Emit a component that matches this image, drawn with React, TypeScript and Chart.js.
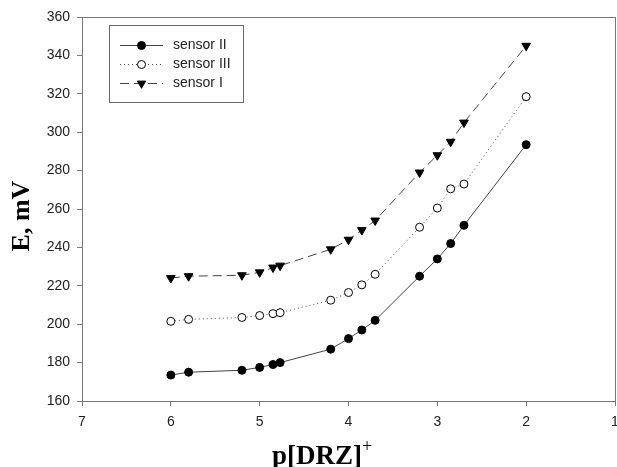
import React, { useEffect, useRef } from "react";
import { Chart, registerables } from "chart.js";

Chart.register(...registerables);

const pValues = [6.0, 5.8, 5.2, 5.0, 4.85, 4.77, 4.2, 4.0, 3.85, 3.7, 3.2, 3.0, 2.85, 2.7, 2.0];
const sensorII = [173.5, 175, 176, 177.5, 179, 180, 187, 192.5, 197, 202, 225, 234, 242, 251.5, 293.5];
const sensorIII = [201.5, 202.5, 203.5, 204.5, 205.5, 206, 212.5, 216.5, 220.5, 226, 250.5, 260.5, 270.5, 273, 318.5];
const sensorI = [224, 225, 225.5, 227, 229.5, 230.5, 239, 244, 249, 254, 279, 288, 295, 305, 345];
const seriesLabels = ["sensor II", "sensor III", "sensor I"];
const xTitle = "p[DRZ]";
const xTitleSup = "+";
const yTitle = "E, mV";

const LINE = "#444";
const AXIS = "#777";

const toPts = (ys: number[]) => pValues.map((x, i) => ({ x, y: ys[i] }));

const decorPlugin = {
  id: "decor",
  afterDraw(chart: any) {
    const { ctx, chartArea } = chart;
    const { left, right, top, bottom } = chartArea;
    ctx.save();
    // frame
    ctx.strokeStyle = AXIS;
    ctx.lineWidth = 1;
    ctx.setLineDash([]);
    ctx.strokeRect(Math.round(left) + 0.5, Math.round(top) + 0.5, Math.round(right - left), Math.round(bottom - top));

    // legend
    const bx = 109.5, by = 25.5, bw = 134, bh = 77;
    ctx.fillStyle = "#fff";
    ctx.fillRect(bx, by, bw, bh);
    ctx.strokeStyle = "#666";
    ctx.strokeRect(bx, by, bw, bh);
    const rows = [45, 64, 83];
    chart.data.datasets.forEach((ds: any, i: number) => {
      const y = rows[i] + 0.5;
      ctx.strokeStyle = LINE;
      ctx.lineWidth = 1;
      ctx.setLineDash(ds.borderDash || []);
      ctx.beginPath();
      ctx.moveTo(120, y);
      ctx.lineTo(163, y);
      ctx.stroke();
      ctx.setLineDash([]);
      // marker
      ctx.beginPath();
      if (ds.pointStyle === "triangle") {
        const r = 4.8;
        ctx.moveTo(141.5 - r * 0.87, y - r * 0.5);
        ctx.lineTo(141.5 + r * 0.87, y - r * 0.5);
        ctx.lineTo(141.5, y + r);
        ctx.closePath();
      } else {
        ctx.arc(141.5, y, 4, 0, Math.PI * 2);
      }
      ctx.fillStyle = ds.pointBackgroundColor;
      ctx.fill();
      ctx.strokeStyle = "#000";
      ctx.stroke();
      ctx.fillStyle = "#222";
      ctx.font = "14px 'Liberation Sans', Arial, sans-serif";
      ctx.textBaseline = "middle";
      ctx.textAlign = "left";
      ctx.fillText(ds.label, 173, y);
    });

    // y title
    ctx.save();
    ctx.translate(22, 216);
    ctx.rotate(-Math.PI / 2);
    ctx.fillStyle = "#000";
    ctx.font = "bold 26px 'Liberation Serif', 'Times New Roman', serif";
    ctx.textAlign = "center";
    ctx.textBaseline = "middle";
    ctx.fillText(yTitle, 0, 0);
    ctx.restore();

    // x title with superscript
    ctx.fillStyle = "#000";
    ctx.font = "bold 27px 'Liberation Serif', 'Times New Roman', serif";
    ctx.textAlign = "left";
    ctx.textBaseline = "alphabetic";
    const mainW = ctx.measureText(xTitle).width;
    ctx.font = "18px 'Liberation Serif', 'Times New Roman', serif";
    const supW = ctx.measureText(xTitleSup).width;
    const startX = 322 - (mainW + supW) / 2;
    ctx.font = "bold 27px 'Liberation Serif', 'Times New Roman', serif";
    ctx.fillText(xTitle, startX, 464);
    ctx.font = "18px 'Liberation Serif', 'Times New Roman', serif";
    ctx.fillText(xTitleSup, startX + mainW, 452);
    ctx.restore();
  },
};

export default function App() {
  const ref = useRef<HTMLCanvasElement | null>(null);
  useEffect(() => {
    if (!ref.current) return;
    const tickFont = { family: "'Liberation Sans', Arial, sans-serif", size: 14 };
    const chart = new Chart(ref.current, {
      type: "scatter",
      data: {
        datasets: [
          {
            label: seriesLabels[0],
            data: toPts(sensorII),
            showLine: true,
            borderColor: LINE,
            borderWidth: 1,
            pointStyle: "circle",
            pointRadius: 4,
            pointBackgroundColor: "#000",
            pointBorderColor: "#000",
            pointBorderWidth: 1,
            tension: 0,
          },
          {
            label: seriesLabels[1],
            data: toPts(sensorIII),
            showLine: true,
            borderColor: LINE,
            borderWidth: 1,
            borderDash: [1, 3],
            pointStyle: "circle",
            pointRadius: 4,
            pointBackgroundColor: "#fff",
            pointBorderColor: "#000",
            pointBorderWidth: 1,
            tension: 0,
          },
          {
            label: seriesLabels[2],
            data: toPts(sensorI),
            showLine: true,
            borderColor: LINE,
            borderWidth: 1,
            borderDash: [9, 5],
            pointStyle: "triangle",
            pointRotation: 180,
            pointRadius: 5,
            pointBackgroundColor: "#000",
            pointBorderColor: "#000",
            pointBorderWidth: 1,
            tension: 0,
          },
        ] as any,
      },
      options: {
        animation: false,
        responsive: false,
        maintainAspectRatio: false,
        layout: { autoPadding: false, padding: { top: 17, right: 2, left: 0, bottom: 0 } },
        plugins: { legend: { display: false }, tooltip: { enabled: false } },
        scales: {
          x: {
            type: "linear",
            reverse: true,
            min: 1,
            max: 7,
            ticks: { stepSize: 1, color: "#222", font: tickFont, padding: 8, maxRotation: 0 },
            grid: { drawOnChartArea: false, drawTicks: true, tickLength: 5, color: AXIS },
            border: { color: AXIS },
            afterFit: (s: any) => { s.height = 66; s.paddingLeft = 0; s.paddingRight = 0; },
          },
          y: {
            type: "linear",
            min: 160,
            max: 360,
            ticks: { stepSize: 20, color: "#222", font: tickFont, padding: 7 },
            grid: { drawOnChartArea: false, drawTicks: true, tickLength: 5, color: AXIS },
            border: { color: AXIS },
            afterFit: (s: any) => { s.width = 82; s.paddingTop = 0; s.paddingBottom = 0; },
          },
        },
      } as any,
      plugins: [decorPlugin],
    });
    return () => chart.destroy();
  }, []);
  return (
    <div style={{ position: "fixed", left: 0, top: 0, width: 617, height: 467, background: "#fff" }}>
      <canvas ref={ref} width={617} height={467} style={{ width: 617, height: 467, display: "block" }} />
    </div>
  );
}
